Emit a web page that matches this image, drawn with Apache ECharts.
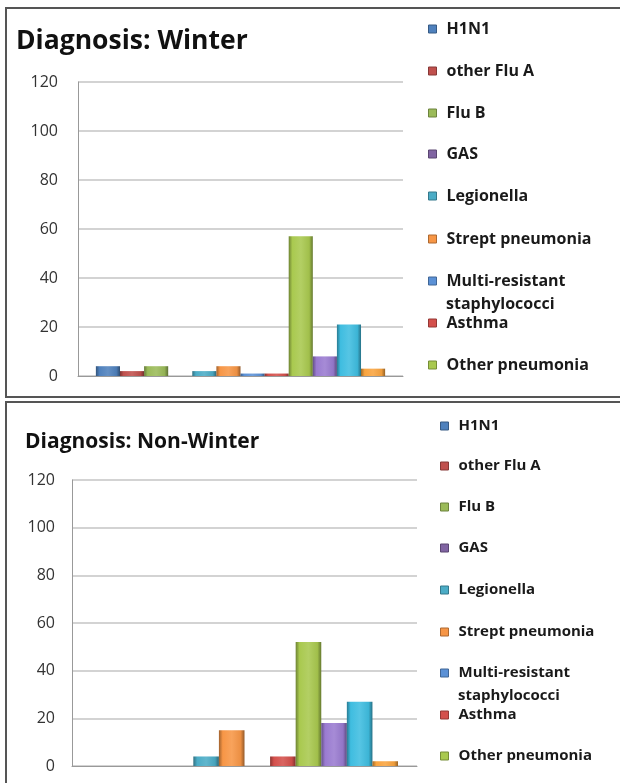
<!DOCTYPE html>
<html>
<head>
<meta charset="utf-8">
<script src="https://cdn.jsdelivr.net/npm/echarts@6/dist/echarts.min.js"></script>
<style>
  html, body { margin: 0; padding: 0; background: #fff; overflow: hidden; }
  #chart { width: 620px; height: 783px; }
</style>
</head>
<body>
<div id="chart"></div>
<script>
  // data
  var categories = ['Diagnosis'];
  var seriesNames = ['H1N1', 'other Flu A', 'Flu B', 'GAS', 'Legionella', 'Strept pneumonia',
    'Multi-resistant staphylococci', 'Asthma', 'Other pneumonia', 'Series10', 'Series11', 'Series12'];
  var winterValues = [4, 2, 4, 0, 2, 4, 1, 1, 57, 8, 21, 3];
  var nonWinterValues = [0, 0, 0, 0, 4, 15, 0, 4, 52, 18, 27, 2];
  var yTicks = [0, 20, 40, 60, 80, 100, 120];
  var legendNames = seriesNames.slice(0, 9);

  var palette = ['#4f81bd', '#c0504d', '#9bbb59', '#8064a2', '#4bacc6', '#f79646',
    '#5b91d6', '#d4504c', '#a9c94f', '#9a7bd0', '#3fbde0', '#f9a43f'];

  function shade(hex, f) {
    var n = parseInt(hex.slice(1), 16);
    var r = n >> 16, g = (n >> 8) & 255, b = n & 255;
    function c(v) { return Math.max(0, Math.min(255, Math.round(f < 0 ? v * (1 + f) : v + (255 - v) * f))); }
    return 'rgb(' + c(r) + ',' + c(g) + ',' + c(b) + ')';
  }
  function barFill(hex) {
    return new echarts.graphic.LinearGradient(0, 0, 1, 0, [
      { offset: 0, color: shade(hex, -0.35) },
      { offset: 0.15, color: shade(hex, 0) },
      { offset: 0.5, color: shade(hex, 0.12) },
      { offset: 0.85, color: shade(hex, -0.05) },
      { offset: 1, color: shade(hex, -0.4) }
    ]);
  }

  var panels = [
    {
      title: 'Diagnosis: Winter', values: winterValues, titleSize: 26.5, titleLeft: 16, titleTop: 28,
      grid: { left: 78, right: 217, top: 82, bottom: 407 }, labelMargin: 20,
      legendX: 428, legendFont: 16,
      legendCenters: [29, 71, 113, 154, 196, 239, 281, 323, 365], staphY: 304
    },
    {
      title: 'Diagnosis: Non-Winter', values: nonWinterValues, titleSize: 21, titleLeft: 25, titleTop: 432,
      grid: { left: 72, right: 203, top: 480, bottom: 17 }, labelMargin: 17,
      legendX: 440, legendFont: 15,
      legendCenters: [426, 466, 507, 548, 590, 632, 673, 715, 756], staphY: 696
    }
  ];

  var font = '"Open Sans", sans-serif';
  var option = {
    animation: false,
    title: [], grid: [], xAxis: [], yAxis: [], legend: [], series: [],
    graphic: [
      { type: 'rect', shape: { x: 6, y: 8, width: 640, height: 389 }, style: { fill: 'none', stroke: '#555', lineWidth: 2 } },
      { type: 'rect', shape: { x: 6, y: 402, width: 640, height: 420 }, style: { fill: 'none', stroke: '#555', lineWidth: 2 } }
    ]
  };

  panels.forEach(function (p, pi) {
    option.title.push({
      text: p.title, left: p.titleLeft, top: p.titleTop, padding: 0,
      textStyle: { fontFamily: font, fontSize: p.titleSize, fontWeight: 'bold', color: '#111' }
    });
    option.grid.push(p.grid);
    option.xAxis.push({
      type: 'category', gridIndex: pi, data: categories,
      axisLine: { lineStyle: { color: '#999', width: 1 } },
      axisTick: { show: false }, axisLabel: { show: false }
    });
    option.yAxis.push({
      type: 'value', gridIndex: pi, min: yTicks[0], max: yTicks[yTicks.length - 1], interval: yTicks[1] - yTicks[0],
      axisLine: { show: true, lineStyle: { color: '#999', width: 1 } },
      axisTick: { show: false },
      axisLabel: { margin: p.labelMargin, fontFamily: font, fontSize: 16, color: '#333' },
      splitLine: { lineStyle: { color: '#c4c4c4', width: 1.5 } }
    });
    legendNames.forEach(function (name, li) {
      option.legend.push({
        data: [name], orient: 'vertical', left: p.legendX, top: p.legendCenters[li] - p.legendFont / 2,
        padding: 0, itemWidth: 8, itemHeight: 8, icon: 'rect', selectedMode: false,
        itemStyle: { color: palette[li], borderColor: shade(palette[li], -0.3), borderWidth: 1 },
        formatter: function (n) { return n === 'Multi-resistant staphylococci' ? 'Multi-resistant' : n; },
        textStyle: { fontFamily: font, fontSize: p.legendFont, fontWeight: 'bold', color: '#1a1a1a', padding: [0, 0, 0, 5] }
      });
    });
    option.graphic.push({
      type: 'text', x: p.legendX + 18, y: p.staphY,
      style: { text: 'staphylococci', font: 'bold ' + p.legendFont + 'px ' + font, fill: '#1a1a1a', verticalAlign: 'middle' }
    });
    seriesNames.forEach(function (name, si) {
      option.series.push({
        name: name, type: 'bar', xAxisIndex: pi, yAxisIndex: pi,
        data: [p.values[si]],
        barGap: '0%', barCategoryGap: '11%',
        itemStyle: { color: barFill(palette[si]) }
      });
    });
  });

  var chart = echarts.init(document.getElementById('chart'));
  chart.setOption(option);
</script>
</body>
</html>
